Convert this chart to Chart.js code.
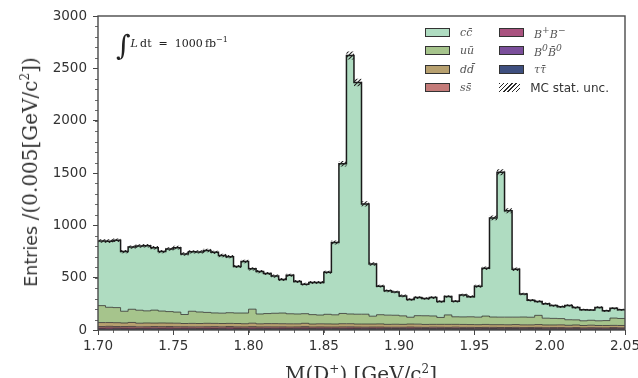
<!DOCTYPE html>
<html lang="en">
<head>
  <meta charset="UTF-8">
  <title>M(D+) stacked MC</title>
  <script src="https://cdn.jsdelivr.net/npm/chart.js"></script>
  <style>
    body { margin: 0; background: #ffffff; font-family: "DejaVu Sans", sans-serif; }
    #wrap { position: relative; width: 638px; height: 378px; overflow: hidden; }
    #plot { position: absolute; left: 0; top: 0; }
    .serif { font-family: "DejaVu Serif", "Liberation Serif", serif; }
    #ytitle {
      position: absolute; left: 30px; top: 172px; white-space: nowrap; color: #333;
      transform: translate(-50%, -50%) rotate(-90deg);
    }
    #xtitle { position: absolute; left: 361px; top: 363px; transform: translateX(-50%); white-space: nowrap; color: #333; font-size: 20px; line-height: 1; }
    #lumi { position: absolute; left: 116px; top: 29px; white-space: nowrap; color: #222; font-size: 11px; }
    #lumi .int { font-size: 28px; vertical-align: -8px; }
    #legend { position: absolute; left: 425px; top: 25px; display: grid; grid-template-columns: 74px 110px; row-gap: 4px; }
    .item { display: flex; align-items: center; height: 14.5px; font-size: 12px; color: #333; white-space: nowrap; }
    .sw { width: 23px; height: 7px; border: 1.3px solid #333; margin-right: 10px; box-sizing: content-box; }
    .math { font-family: "DejaVu Serif", serif; font-style: italic; font-size: 11px; color: #555; }
  </style>
</head>
<body>
  <div id="wrap">
    <canvas id="plot" width="638" height="378"></canvas>
    <div id="ytitle"><span style="font-size:17.5px">Entries </span><span class="serif" style="font-size:20px">/(0.005[GeV/c<sup style="font-size:12px">2</sup>])</span></div>
    <div id="xtitle" class="serif">M(D<sup style="font-size:12px">+</sup>) [GeV/c<sup style="font-size:12px">2</sup>]</div>
    <div id="lumi" class="serif"><span class="int">&int;</span><i>L</i>&thinsp;dt &nbsp;= &nbsp;1000&thinsp;fb<sup style="font-size:8px">&minus;1</sup></div>
    <div id="legend"></div>
  </div>

  <script>
    // binning of the D+ invariant mass histogram
    const BIN_LO = 1.70;
    const BIN_W = 0.005;
    const X_MIN = 1.70, X_MAX = 2.05;
    const X_MAJOR = 0.05, X_MINOR = 0.01;
    const Y_MAX = 3000, Y_MAJOR = 500, Y_MINOR = 100;

    // entries per bin for each MC sample (70 bins)
    const tautau = [4,3,5,4,4,3,4,5,3,4, 4,3,4,4,3,5,4,3,4,4, 3,4,4,3,4,3,4,4,3,4, 3,4,3,4,4,3,4,3,4,3,
                    3,4,3,3,4,3,3,4,3,3, 3,3,4,3,3,3,3,3,4,3, 3,3,3,3,3,2,3,3,3,3];
    const b0b0 = [6,5,7,6,5,6,5,6,6,5, 5,6,5,5,6,5,5,5,6,5, 5,5,6,5,5,5,5,6,5,5, 5,5,5,5,5,5,5,5,4,5,
                  5,4,5,5,4,5,5,4,5,4, 4,5,4,4,4,5,4,4,4,4, 4,4,4,4,3,4,4,3,4,4];
    const bpbm = [9,12,8,9,10,7,9,8,9,11, 8,9,8,7,9,8,8,12,8,7, 11,8,7,8,9,7,8,10,7,8, 8,7,8,9,7,8,7,8,7,6,
                  7,8,7,6,7,7,6,7,6,7, 6,7,6,6,7,6,6,7,6,5, 6,6,5,6,5,6,5,5,6,5];
    const ssbar = [14,15,13,14,15,14,13,14,14,13, 14,13,13,14,13,14,13,13,12,13, 13,12,13,13,12,13,12,12,13,12,
                   12,12,13,12,12,11,12,12,11,12, 11,12,11,11,12,11,11,12,11,11, 11,10,11,11,10,11,10,10,11,10,
                   10,10,9,10,9,10,9,9,10,9];
    const ddbar = [38,36,37,34,38,35,36,33,35,33, 34,31,33,32,33,31,32,30,32,31, 33,30,31,32,30,31,30,32,29,30,
                   30,29,31,30,29,30,29,30,28,29, 28,29,30,28,27,28,29,27,28,27, 27,28,26,27,26,27,26,25,27,26,
                   25,26,24,25,23,24,22,23,21,22];
    const uubar = [162,146,144,112,126,124,116,124,114,110, 106,86,116,110,104,100,99,102,100,102,
                   134,94,96,99,102,96,94,92,90,84, 92,88,98,93,94,94,75,88,88,86,
                   81,65,81,83,80,66,90,72,72,74, 72,80,73,72,73,71,75,73,88,65,
                   63,60,53,49,45,47,45,47,70,67];
    const ccbar = [618,632,644,570,594,614,622,596,568,598, 616,578,568,574,592,579,551,536,445,492,
                   385,405,383,355,320,368,310,282,307,310, 402,690,1430,2470,2214,1054,499,273,232,222,
                   191,169,173,164,176,152,176,148,209,192, 295,457,947,1384,1017,457,220,162,132,138,
                   122,113,137,118,105,98,128,93,93,83];
    // MC statistical uncertainty on the summed prediction
    const mcUnc = [17,17,17,16,16,17,17,16,16,16, 17,16,16,16,16,16,16,16,15,16, 15,15,15,15,14,15,14,14,14,14,
                   15,19,27,38,35,24,17,14,13,13, 13,12,13,12,13,12,13,12,13,13, 14,17,23,28,24,17,13,12,12,11,
                   11,11,11,11,10,10,11,10,10,10];

    // samples, bottom of stack first
    const samples = [
      { key: 'tautau', label: '&tau;&tau;&#x0304;', color: '#3e4f7f', values: tautau },
      { key: 'b0b0', label: 'B<sup>0</sup>B&#x0304;<sup>0</sup>', color: '#7b4f9b', values: b0b0 },
      { key: 'bpbm', label: 'B<sup>+</sup>B<sup>&minus;</sup>', color: '#a9527f', values: bpbm },
      { key: 'ssbar', label: 'ss&#x0304;', color: '#c47b79', values: ssbar },
      { key: 'ddbar', label: 'dd&#x0304;', color: '#b7a06f', values: ddbar },
      { key: 'uubar', label: 'u&#x016B;', color: '#a6c48c', values: uubar },
      { key: 'ccbar', label: 'cc&#x0304;', color: '#afdcc1', values: ccbar }
    ];
    // legend is filled row by row in a two-column grid
    const legendOrder = ['ccbar', 'bpbm', 'uubar', 'b0b0', 'ddbar', 'tautau', 'ssbar', 'unc'];

    const nBins = ccbar.length;
    const edges = Array.from({ length: nBins + 1 }, (_, i) => +(BIN_LO + i * BIN_W).toFixed(3));
    // step points: one per left edge plus the closing right edge
    const steps = vals => edges.map((x, i) => ({ x, y: vals[Math.min(i, nBins - 1)] }));

    const total = edges.slice(0, nBins).map((_, i) => samples.reduce((s, d) => s + d.values[i], 0));
    const uncLo = total.map((t, i) => t - mcUnc[i]);
    const uncHi = total.map((t, i) => t + mcUnc[i]);

    function hatchPattern() {
      const c = document.createElement('canvas');
      c.width = 4; c.height = 4;
      const g = c.getContext('2d');
      g.strokeStyle = '#222';
      g.lineWidth = 1.1;
      g.beginPath();
      g.moveTo(0, 4); g.lineTo(4, 0);
      g.moveTo(-1, 1); g.lineTo(1, -1);
      g.moveTo(3, 5); g.lineTo(5, 3);
      g.stroke();
      return g.createPattern(c, 'repeat');
    }

    const datasets = samples.map((s, i) => ({
      label: s.key,
      data: steps(s.values),
      stepped: 'before',
      backgroundColor: s.color,
      borderColor: s.key === 'ccbar' ? '#1a1a1a' : 'rgba(45,45,45,0.85)',
      borderWidth: s.key === 'ccbar' ? 1.5 : 0.9,
      pointRadius: 0,
      fill: i === 0 ? 'origin' : '-1'
    }));
    datasets.push({
      label: 'uncLo', data: steps(uncLo), stack: 'lo', stepped: 'before',
      borderWidth: 0, pointRadius: 0, fill: false, order: -1
    });
    datasets.push({
      label: 'uncHi', data: steps(uncHi), stack: 'hi', stepped: 'before',
      borderWidth: 0, pointRadius: 0, fill: '-1', backgroundColor: hatchPattern(), order: -1
    });

    // frame around the axes and the minor ticks
    const framePlugin = {
      id: 'frame',
      afterDraw(chart) {
        const { ctx, chartArea: a, scales: { x, y } } = chart;
        ctx.save();
        ctx.strokeStyle = '#444';
        ctx.lineWidth = 0.8;
        ctx.beginPath();
        for (let k = 0; X_MIN + k * X_MINOR <= X_MAX + 1e-9; k++) {
          const px = Math.round(x.getPixelForValue(X_MIN + k * X_MINOR)) + 0.5;
          ctx.moveTo(px, a.bottom); ctx.lineTo(px, a.bottom + 3);
        }
        for (let v = 0; v <= Y_MAX; v += Y_MINOR) {
          const py = Math.round(y.getPixelForValue(v)) + 0.5;
          ctx.moveTo(a.left, py); ctx.lineTo(a.left - 3, py);
        }
        ctx.stroke();
        ctx.strokeStyle = '#4a4a4a';
        ctx.lineWidth = 1.4;
        ctx.strokeRect(a.left, a.top, a.right - a.left, a.bottom - a.top);
        ctx.restore();
      }
    };

    Chart.defaults.font.family = '"DejaVu Sans", sans-serif';
    Chart.defaults.color = '#333';

    new Chart(document.getElementById('plot').getContext('2d'), {
      type: 'line',
      data: { datasets },
      options: {
        responsive: false,
        animation: false,
        layout: { padding: { left: 0, right: 13, top: 16, bottom: 0 } },
        plugins: { legend: { display: false }, tooltip: { enabled: false } },
        scales: {
          x: {
            type: 'linear', min: X_MIN, max: X_MAX,
            grid: { drawOnChartArea: false, tickLength: 5, tickColor: '#444' },
            border: { display: false },
            ticks: { stepSize: X_MAJOR, padding: 3, maxRotation: 0, font: { size: 13.5 },
                     callback: v => Number(v).toFixed(2) },
            afterFit(s) { s.height = 48; s.paddingLeft = 0; s.paddingRight = 0; }
          },
          y: {
            stacked: true, min: 0, max: Y_MAX,
            grid: { drawOnChartArea: false, tickLength: 5, tickColor: '#444' },
            border: { display: false },
            ticks: { stepSize: Y_MAJOR, padding: 6, font: { size: 13.5 }, callback: v => String(v) },
            afterFit(s) { s.width = 98; }
          }
        }
      },
      plugins: [framePlugin]
    });

    // legend, two columns
    const legend = document.getElementById('legend');
    legendOrder.forEach(key => {
      const item = document.createElement('div');
      item.className = 'item';
      const sw = document.createElement('span');
      sw.className = 'sw';
      const txt = document.createElement('span');
      if (key === 'unc') {
        sw.style.border = 'none';
        sw.style.width = '25px';
        sw.style.height = '9px';
        sw.style.background = 'repeating-linear-gradient(135deg, #2a2a2a 0 1px, #fff 1px 3px)';
        txt.textContent = 'MC stat. unc.';
      } else {
        const s = samples.find(d => d.key === key);
        sw.style.background = s.color;
        txt.className = 'math';
        txt.innerHTML = s.label;
      }
      item.appendChild(sw);
      item.appendChild(txt);
      legend.appendChild(item);
    });
  </script>
</body>
</html>
